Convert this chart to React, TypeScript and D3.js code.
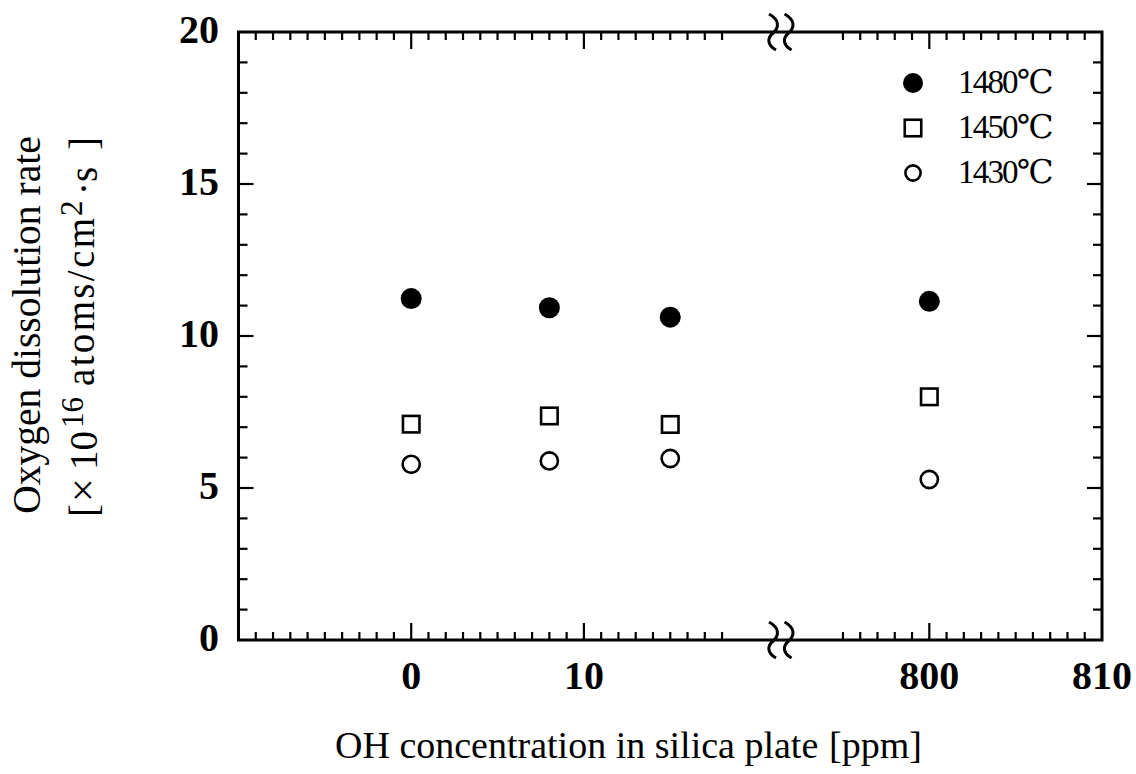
import React from "react";
import * as d3 from "d3";

// ---- data ----
const ohConc = [0, 8, 15, 800];
const rate1480 = [11.23, 10.93, 10.62, 11.14];
const rate1450 = [7.1, 7.37, 7.09, 8.0];
const rate1430 = [5.78, 5.89, 5.97, 5.28];
const seriesLabels = ["1480℃", "1450℃", "1430℃"];
const xTickLabels = [0, 10, 800, 810];
const yTickLabels = [0, 5, 10, 15, 20];
const leftMinorTicks = d3.range(-9, 19);
const rightMinorTicks = d3.range(795, 810);
const xMajorTicks = [0, 10, 800];
const yMinorTicks = d3.range(1, 20);

const W = 1136;
const H = 774;
const FONT = "'Liberation Serif', 'Times New Roman', 'DejaVu Serif', 'Noto Sans CJK JP', serif";

// broken x axis: values above the break are shifted so that 800 sits 30 units after 0
const BREAK_SHIFT = 770;
const toV = (d: number) => (d > 100 ? d - BREAK_SHIFT : d);

export default function App() {
  const x = d3.scaleLinear().domain([-10, 40]).range([238.5, 1102]);
  const y = d3.scaleLinear().domain([0, 20]).range([640, 32]);
  const X = (d: number) => x(toV(d));

  const x0 = x.range()[0];
  const x1 = x.range()[1];
  const yb = y(0);
  const yt = y(20);

  const minorLen = 8;
  const majorLen = 17;
  const axisStroke = 3;
  const tickStroke = 2.2;

  const xTicksAll = [...leftMinorTicks, ...rightMinorTicks];

  const squiggle = (bx: number, yc: number) =>
    `M${bx - 4},${yc - 18} C${bx + 7},${yc - 12} ${bx + 6},${yc - 4} ${bx},${yc + 1} C${bx - 6},${yc + 6} ${bx - 6},${yc + 13} ${bx + 3},${yc + 18}`;
  const breakXs = [X(20.95), X(21.85)];

  const series = [
    { vals: rate1480, kind: "filled" },
    { vals: rate1450, kind: "square" },
    { vals: rate1430, kind: "open" },
  ];

  const marker = (kind: string, cx: number, cy: number, key: string, legend = false) => {
    if (kind === "filled") return <circle key={key} cx={cx} cy={cy} r={legend ? 10 : 10.5} fill="#000" />;
    if (kind === "square") {
      const s = 16.5;
      return <rect key={key} x={cx - s / 2} y={cy - s / 2} width={s} height={s} fill="#fff" stroke="#000" strokeWidth={2.6} />;
    }
    return <circle key={key} cx={cx} cy={cy} r={legend ? 7.6 : 8.6} fill="#fff" stroke="#000" strokeWidth={2.6} />;
  };

  const legendX = 913;
  const legendY0 = 83;
  const legendDy = 45;

  return (
    <svg width={W} height={H} style={{ position: "absolute", left: 0, top: 0, background: "#fff" }} fontFamily={FONT}>
      <rect x={0} y={0} width={W} height={H} fill="#fff" />

      {/* x ticks bottom & top */}
      {xTicksAll.map((t) => {
        const len = xMajorTicks.includes(t) ? majorLen : minorLen;
        return (
          <g key={"xt" + t} stroke="#000" strokeWidth={tickStroke}>
            <line x1={X(t)} x2={X(t)} y1={yb} y2={yb - len} />
            <line x1={X(t)} x2={X(t)} y1={yt} y2={yt + len} />
          </g>
        );
      })}

      {/* y ticks left & right */}
      {yMinorTicks.map((t) => {
        const len = t % 5 === 0 ? 15 : 9;
        return (
          <g key={"yt" + t} stroke="#000" strokeWidth={tickStroke}>
            <line x1={x0} x2={x0 + len} y1={y(t)} y2={y(t)} />
            <line x1={x1} x2={x1 - len} y1={y(t)} y2={y(t)} />
          </g>
        );
      })}

      {/* frame */}
      <rect x={x0} y={yt} width={x1 - x0} height={yb - yt} fill="none" stroke="#000" strokeWidth={axisStroke} />

      {/* axis break marks */}
      {breakXs.map((bx, i) => (
        <g key={"br" + i} fill="none" stroke="#000" strokeWidth={3}>
          <path d={squiggle(bx, yb)} />
          <path d={squiggle(bx, yt)} />
        </g>
      ))}

      {/* x tick labels */}
      {xTickLabels.map((t) => (
        <text key={"xl" + t} x={X(t)} y={689} textAnchor="middle" fontSize={40} fontWeight="bold">
          {t}
        </text>
      ))}

      {/* y tick labels */}
      {yTickLabels.map((t) => (
        <text key={"yl" + t} x={219} y={y(t) + 11} textAnchor="end" fontSize={40} fontWeight="bold">
          {t}
        </text>
      ))}

      {/* data */}
      {series.map((s, si) =>
        s.vals.map((v, i) => marker(s.kind, X(ohConc[i]), y(v), `m${si}-${i}`))
      )}

      {/* legend */}
      {series.map((s, i) => (
        <g key={"lg" + i}>
          {marker(s.kind, legendX, legendY0 + i * legendDy, "lm" + i, true)}
          <text x={958} y={legendY0 + i * legendDy + 10} fontSize={33} letterSpacing={-1.8}>
            {seriesLabels[i]}
          </text>
        </g>
      ))}

      {/* x axis title */}
      <text x={335} y={758} fontSize={38}>
        OH concentration in silica plate
      </text>
      <text x={829} y={758} fontSize={38}>
        [ppm]
      </text>

      {/* y axis title */}
      <text transform="translate(40,325) rotate(-90)" textAnchor="middle" fontSize={39.5}>
        Oxygen dissolution rate
      </text>
      <g transform="translate(97,517) rotate(-90)" fontSize={39}>
        <text x={0} y={0}>[</text>
        <text x={15} y={0} fontSize={42}>×</text>
        <text x={47} y={0}>10</text>
        <text x={89} y={-14} fontSize={31}>16</text>
        <text x={131} y={-3} fontSize={39} textLength={168} lengthAdjust="spacing">atoms/cm</text>
        <text x={301} y={-15} fontSize={31}>2</text>
        <text x={322} y={0}>·s</text>
        <text x={367} y={0}>]</text>
      </g>
    </svg>
  );
}
